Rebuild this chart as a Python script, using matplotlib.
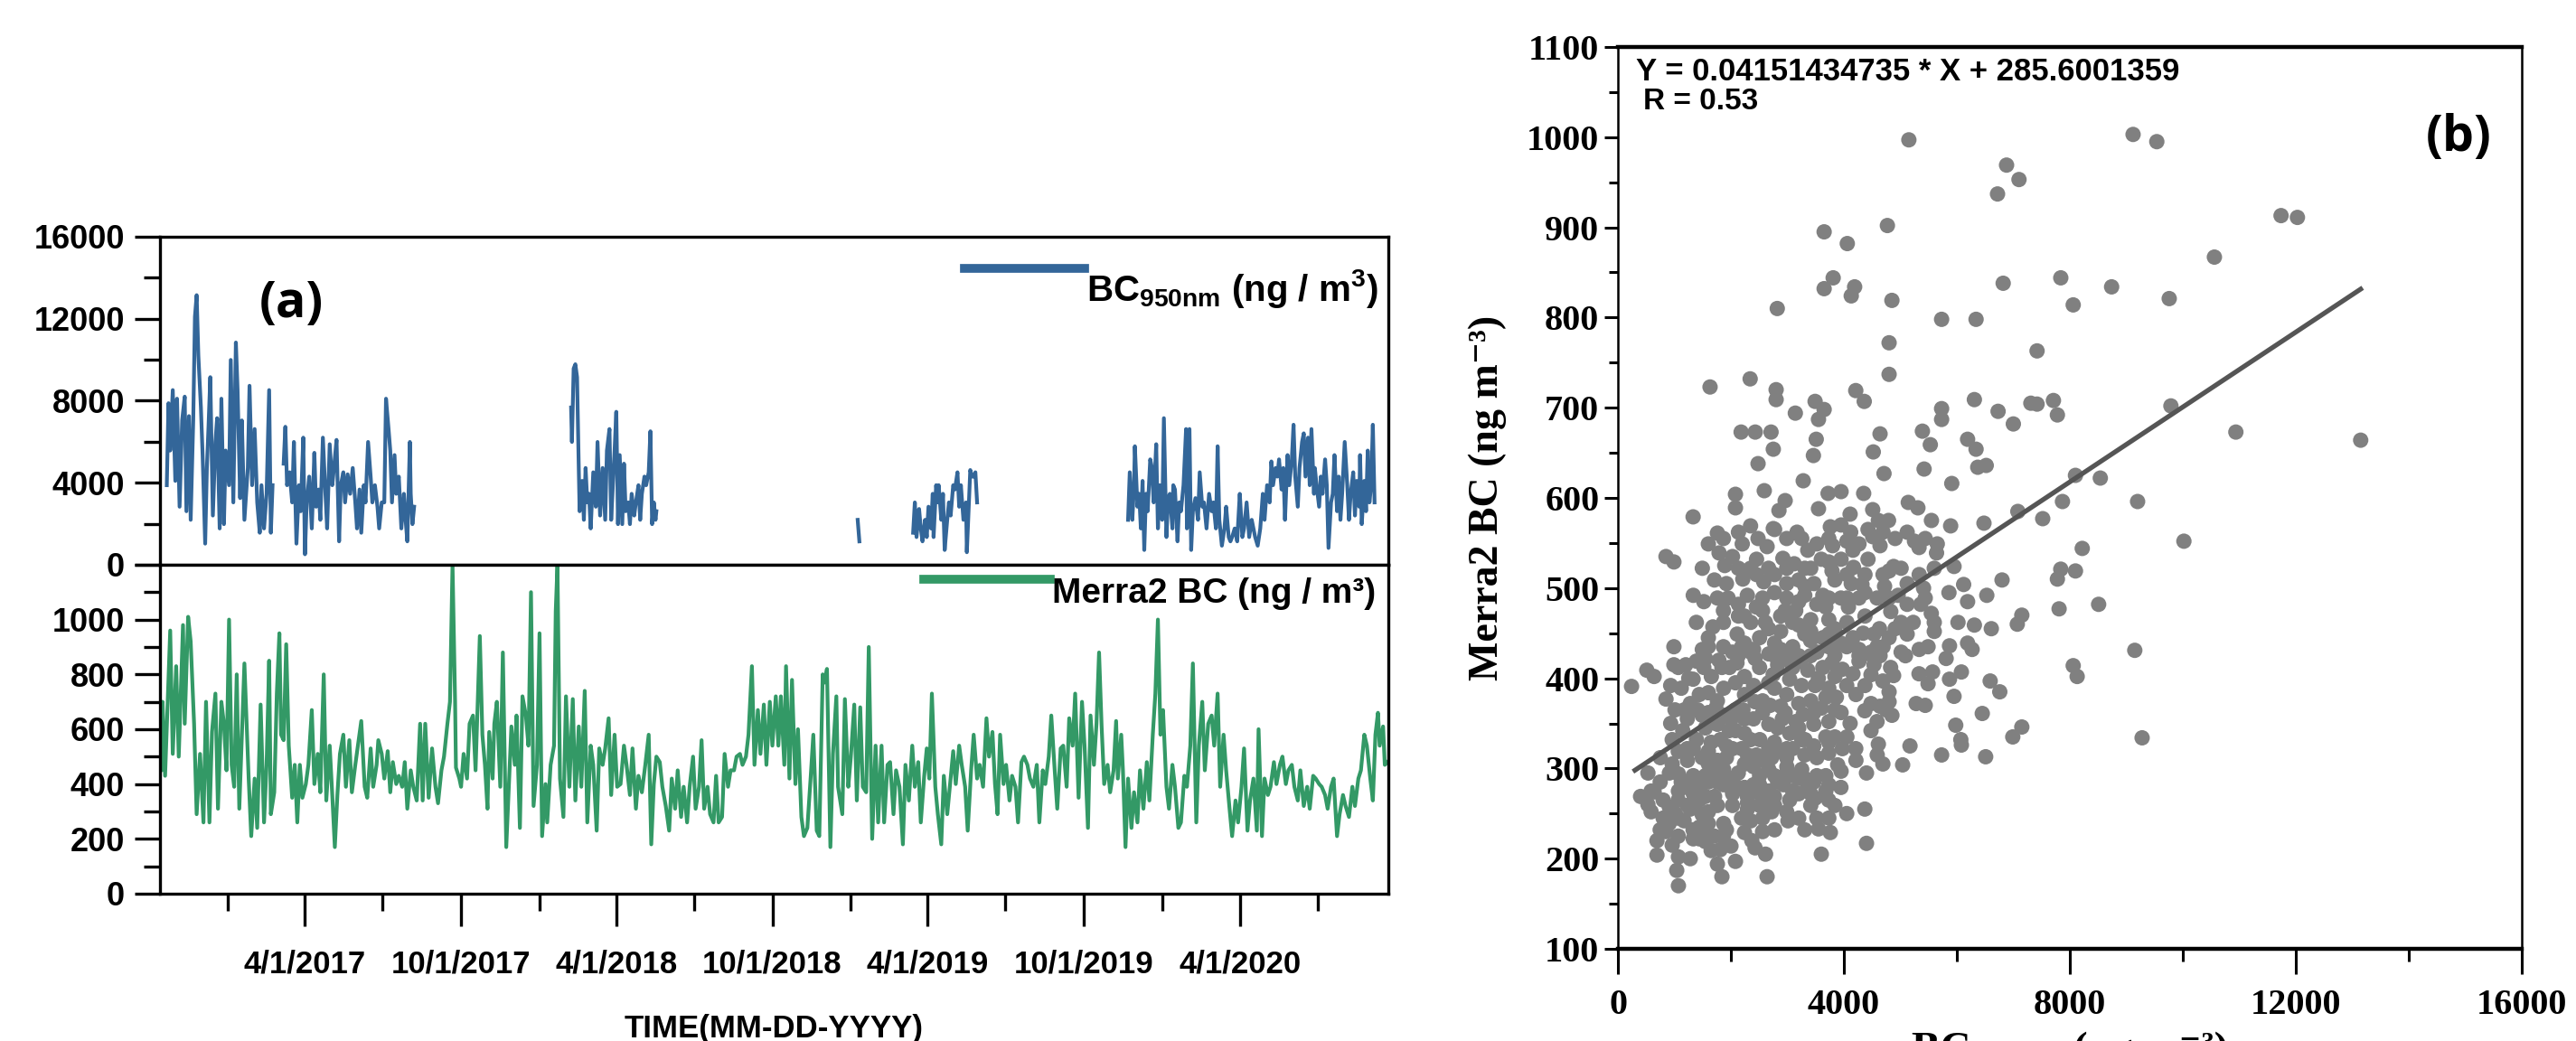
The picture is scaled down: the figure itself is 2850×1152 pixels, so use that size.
import numpy as np
import matplotlib
matplotlib.use("Agg")
import matplotlib.pyplot as plt
import matplotlib.dates as mdates
from matplotlib.transforms import Affine2D
from matplotlib.ticker import MultipleLocator, FixedLocator, FuncFormatter

plt.rcParams['font.family'] = ['Liberation Sans', 'DejaVu Sans']
plt.rcParams['font.weight'] = 'bold'
plt.rcParams['mathtext.fontset'] = 'custom'
plt.rcParams['mathtext.rm'] = 'Liberation Sans:bold'
plt.rcParams['mathtext.it'] = 'Liberation Sans:bold'
plt.rcParams['mathtext.bf'] = 'Liberation Sans:bold'

# ---------------- data ----------------
SERIES_START = np.datetime64('2016-10-13')
SERIES_END = np.datetime64('2020-09-22')

# MERRA-2 BC (ng/m3): (day offset from SERIES_START, value)
merra = [
 (0,700),(2,450),(3,700),(6,430),(12,960),(15,510),(19,830),(22,500),(27,980),(29,620),(33,1010),(36,920),
 (40,620),(43,290),(47,510),(51,260),(54,700),(58,260),(61,590),(65,730),(68,310),(72,700),(75,620),(78,450),
 (81,1000),(84,470),(87,390),(90,800),(93,310),(96,580),(99,840),(104,420),(107,210),(111,420),(114,240),
 (118,690),(122,260),(125,470),(128,850),(130,290),(134,370),(137,730),(140,950),(142,580),(145,560),(148,910),
 (151,540),(155,350),(158,470),(161,260),(164,470),(167,350),(171,400),(174,470),(178,670),(181,400),(185,510),
 (188,370),(192,800),(195,340),(199,540),(202,360),(205,170),(208,360),(211,510),(215,580),(218,390),(222,560),
 (225,370),(229,470),(233,560),(236,630),(240,390),(243,350),(247,530),(250,390),(254,470),(256,560),(260,510),
 (263,420),(267,520),(270,370),(273,480),(277,400),(280,430),(284,390),(287,480),(290,310),(294,450),(297,390),
 (301,340),(305,620),(308,340),(311,620),(315,350),(319,530),(323,390),(326,330),(330,450),(333,500),(337,620),
 (340,700),(343,1200),(346,700),(347,460),(351,420),
 (353,390),(356,510),(360,420),(363,620),(367,650),(370,450),(375,940),(378,580),(381,470),(384,310),(386,590),
 (390,420),(392,620),(395,700),(399,390),(402,880),(406,170),(409,390),(412,610),(416,470),(418,650),(422,240),
 (425,720),(429,650),(432,540),(435,1100),(438,320),(442,470),(445,950),(448,210),(452,400),(454,260),(458,470),
 (462,540),(464,1030),(466,1200),(469,420),(473,280),(476,720),(480,390),(484,710),(487,340),(491,610),(494,390),
 (498,740),(501,260),(505,540),(508,470),(512,230),(515,530),(519,470),(522,530),(526,640),(529,360),(533,580),
 (536,390),(540,400),(544,540),(547,470),(551,360),(554,530),(558,310),(561,430),(565,370),(569,470),(573,580),
 (576,180),(579,400),(582,500),(586,480),(589,390),(593,320),(597,230),(600,420),(604,310),(607,450),(611,280),
 (614,390),(618,260),(621,390),(625,500),(628,310),(632,390),(635,560),(638,310),(642,390),(645,290),(649,260),
 (652,430),(655,260),(659,280),(662,510),(666,390),(669,450),(673,450),(676,500),(680,510),(683,470),(687,500),
 (690,580),(694,830),(697,470),(701,670),(704,510),(708,690),(711,470),(715,700),(718,540),(722,720),(725,540),
 (728,720),(732,470),(734,830),(738,420),(741,780),(745,400),(748,600),(752,280),(755,210),(759,240),(763,430),
 (766,580),(770,230),(773,210),(777,800),(779,770),(782,820),(786,170),(789,510),(793,720),(795,390),(800,290),
 (803,710),(807,390),(810,500),(814,690),(817,340),(821,680),(824,390),(828,370),(831,900),(835,200),(839,540),
 (842,260),(846,540),(849,260),(853,470),(856,480),(860,290),(863,450),(867,390),(871,180),(874,470),(878,340),
 (882,540),(885,390),(889,480),(892,260),(896,430),(899,530),(902,420),(905,730),(909,390),(912,290),(916,180),
 (919,430),(923,290),(926,390),(930,520),(933,400),(937,540),(940,470),(944,390),(947,230),(951,450),(954,580),
 (958,420),(961,470),(965,390),(969,640),(972,500),(976,590),(979,400),(982,290),(985,580),(989,400),(992,470),
 (996,340),(999,430),(1003,390),(1006,260),(1010,480),(1013,500),(1017,470),(1020,420),(1024,390),(1028,470),
 (1031,260),(1035,450),(1038,400),(1042,500),(1045,650),(1049,450),(1052,310),(1056,530),(1059,540),(1063,390),
 (1066,640),(1070,540),(1073,730),(1077,350),(1081,700),(1084,540),(1088,240),(1091,650),
 (1095,470),(1098,620),(1101,880),(1104,610),(1107,400),(1111,470),(1114,370),(1118,450),(1121,630),(1123,420),
 (1127,580),(1129,450),(1132,170),(1135,420),(1139,240),(1142,370),(1146,260),(1149,450),(1153,310),(1157,480),
 (1160,340),(1164,580),(1167,730),(1170,1000),(1173,580),(1176,670),(1180,390),(1183,310),(1187,470),(1190,390),
 (1194,240),(1197,260),(1201,430),(1204,390),(1208,540),(1211,840),(1215,260),(1218,540),(1222,700),(1225,450),
 (1229,620),(1233,650),(1236,540),(1240,730),(1243,390),(1247,580),(1250,450),(1254,310),(1257,210),(1261,340),
 (1264,260),(1268,390),(1271,530),(1275,230),(1278,340),(1282,420),(1286,230),(1288,600),(1292,210),(1295,420),
 (1299,360),(1302,390),(1306,480),(1309,400),(1313,470),(1316,500),(1320,400),(1323,450),(1327,470),(1330,390),
 (1334,340),(1337,450),(1341,320),(1345,390),(1348,310),(1352,430),(1355,420),(1359,400),(1362,390),(1366,360),
 (1369,310),(1373,390),(1376,420),(1380,210),(1383,290),(1387,360),(1390,320),(1394,280),(1398,390),(1401,320),
 (1405,420),(1408,450),(1412,580),(1415,540),(1419,420),(1422,340),(1425,580),(1428,660),(1430,540),(1434,610),
 (1436,470),(1439,480),
]

# BC 950 nm (ng/m3) measured segments: (day offset, value)
bc_seg1 = [
 (8,3880),(10,7880),(12,5570),(15,8520),(18,4090),(20,8100),(23,2830),(26,7040),(29,8200),(31,2610),(34,7250),
 (36,2190),(39,7040),(41,12100),(43,13150),(45,10200),(48,7670),(50,5350),(53,1030),(55,4720),(57,6830),(59,9150),
 (62,2400),(65,5990),(67,7150),(70,1770),(72,8100),(75,1980),(77,5570),(81,3880),(83,9990),(86,3040),(89,10840),
 (91,8520),(94,3250),(96,7040),(99,2190),(103,4720),(105,8730),(108,3880),(111,6620),(114,3040),(117,1560),
 (119,3880),(122,1770),(125,3460),(128,8520),(130,1560),(132,3880),
]
bc_seg2 = [
 (145,4930),(147,6730),(149,3880),(152,4510),(155,3040),(157,5990),(160,1030),(163,3880),(165,2610),(168,6200),
 (170,510),(172,3040),(175,4300),(178,1770),(181,5460),(183,2830),(186,3670),(188,2190),(191,6200),(194,3460),
 (196,1770),(199,5880),(202,3880),(204,4720),(207,6090),(210,1140),(212,3880),(215,4510),(217,3040),(220,4410),
 (223,3460),(226,4720),(229,3040),(231,1770),(234,3670),(236,1560),(239,3880),(241,3040),(244,5990),(247,4300),
 (249,3040),(252,3880),(255,2830),(257,1770),(260,3040),(263,3040),(265,8100),(268,6620),(270,5570),(272,3040),
 (275,5350),(277,3460),(280,4300),(283,1770),(286,3460),(288,2190),(290,1140),(293,5990),(294,3460),(296,1980),
 (298,2830),
]
bc_seg3 = [
 (482,7670),(483,5990),(485,9570),(487,9780),(489,9150),(491,4720),(492,2610),(495,4090),(497,2190),(499,4720),
 (501,3040),(503,3460),(505,1770),(508,4510),(511,2830),(513,5990),(516,2400),(519,4720),(522,2190),(524,5570),
 (527,6620),(529,2190),(531,3880),(533,5570),(535,7460),(537,1980),(539,5350),(542,1980),(544,4930),(546,2610),
 (549,3040),(551,1980),(553,3460),(556,2400),(558,3040),(561,3880),(563,2190),(565,3460),(568,4300),(570,3880),
 (573,4510),(575,6510),(577,1980),(579,3040),(581,2190),(582,2610),
]
bc_seg4 = [(818,2190),(820,1140)]
bc_seg5 = [
 (883,1560),(885,3040),(887,1350),(890,2720),(892,1770),(894,1140),(897,2190),(899,1350),(901,2830),(904,1770),
 (906,3460),(907,1350),(910,3880),(912,3040),(913,3880),(916,2190),(918,3460),(920,720),(923,2190),(925,3040),
 (927,2400),(930,3880),(932,3670),(935,4510),(937,2830),(939,3880),(942,2190),(945,3040),(946,610),(948,2610),
 (950,4620),(952,4300),(954,4300),(956,4510),(958,3040),
]
bc_seg6 = [
 (1135,2190),(1137,4510),(1140,2190),(1142,3880),(1143,5780),(1146,2830),(1148,3460),(1150,1770),(1152,4090),
 (1154,720),(1156,3460),(1158,2610),(1161,5140),(1163,4720),(1165,3040),(1168,5880),(1170,1770),(1172,3880),
 (1175,2190),(1177,7150),(1180,1350),(1182,3250),(1184,3460),(1187,1770),(1188,3880),(1190,3670),(1193,1140),
 (1195,3040),(1197,2610),(1200,3880),(1203,6620),(1204,1770),(1207,6620),(1209,720),(1211,2610),(1214,3250),
 (1217,2190),(1219,4510),(1222,2830),(1224,3040),(1227,1770),(1230,3460),(1233,2610),(1235,3040),(1238,1770),
 (1240,5780),(1242,2190),(1245,930),(1248,1770),(1250,2830),(1253,1350),(1255,1140),(1257,1350),(1260,1770),
 (1263,1140),(1264,1980),(1266,3460),(1269,1350),(1271,1770),(1274,3040),(1277,1350),(1280,2190),(1282,1770),
 (1284,1350),(1287,930),(1290,1770),(1293,3460),(1295,2190),(1298,3880),(1301,3040),(1303,5040),(1305,3880),
 (1308,4720),(1310,4300),(1312,5140),(1315,3670),(1317,4720),(1319,2190),(1322,5350),(1324,3880),(1327,5140),
 (1329,6830),(1331,4300),(1334,2830),(1336,4720),(1339,5990),(1341,6410),(1343,4300),(1346,6200),(1348,3880),
 (1350,6620),(1353,3460),(1354,4720),(1356,3880),(1359,2830),(1361,4300),(1363,3460),(1366,5140),(1368,3880),
 (1370,820),(1373,3040),(1375,3460),(1377,5350),(1380,2610),(1382,4300),(1384,2190),(1386,3460),(1389,5990),
 (1392,3880),(1394,2190),(1396,3460),(1399,4510),(1401,2400),(1403,4090),(1406,2830),(1407,5350),(1409,1980),
 (1412,4090),(1414,2610),(1416,5570),(1418,3040),(1420,3880),(1422,6830),(1424,3040),
]
bc_segments = [bc_seg1, bc_seg2, bc_seg3, bc_seg4, bc_seg5, bc_seg6]

# scatter: (BC950nm, Merra2 BC)
scatter_sparse = [
 (5150,997),(9120,1003),(9540,995),(6880,969),(7100,953),(6720,937),(11740,913),(12030,911),(4770,902),(3650,895),
 (4060,882),(10560,867),(3810,844),(3650,832),(4190,834),(4130,824),(6820,838),(7840,844),(8740,834),(8060,814),
 (9760,821),(4850,819),(2820,810),(5730,798),(6340,798),(4800,772),(7420,763),(4800,737),(2340,732),(1630,723),
 (7420,704),(7710,708),(7780,692),(9790,702),(10940,673),(13150,664),(7870,596),(8540,622),(8100,625),(9200,596),
 (7810,477),(8510,482),(9150,431),(8060,414),(8130,402),(9280,334),(8220,544),(8100,519),(7840,521),(7780,510),
 (10020,552),(7520,577),
]
scatter_upper = [
 (2800,720),(2800,709),(3490,707),(3650,698),(3550,687),(3140,694),(4210,719),(4360,707),(6310,709),(7310,705),
 (6730,696),(7000,682),(5730,699),(5730,687),(2180,673),(2430,673),(2710,673),(2750,654),(2480,638),(3510,665),
 (3460,647),(4640,671),(4520,651),(4710,627),(5390,674),(5530,659),(6190,665),(6340,654),(6370,634),(6520,636),
 (5420,632),(5910,616),(3280,619),(2590,608),(2080,604),(2080,589),(1330,579),(2960,597),(2850,586),(3720,605),
 (3950,607),(4350,605),(3550,588),(4110,582),(3950,570),(3760,568),(4120,562),(4510,587),(4610,575),(4790,575),
 (5140,595),(5310,589),(5550,575),(5890,569),(6480,572),(7080,585),(3170,562),(2750,566),(1760,561),(850,535),
 (990,529),(1790,539),(1890,525),(2200,549),(2480,555),(2640,546),(2210,510),(2580,507),(2920,533),(3120,527),
 (3360,542),(3600,532),(3800,547),(3950,532),(4170,523),(4510,557),(4640,547),(4880,524),(5250,552),(5330,545),
 (5640,539),(5950,524),(6800,509),(6120,504),(5860,495),(6530,492),(6190,485),(7150,470),(7070,460),(6610,455),
 (6310,459),(6020,462),(5600,452),(5870,436),(6190,439),(5490,435),(4830,474),(5010,462),(4630,455),(4340,450),
 (5360,482),(5440,489),(5410,500),(4720,502),(4320,504),(3680,479),(3470,505),(3790,519),(4130,505),(1520,485),
 (1680,457),(1950,489),(2290,492),(2450,479),(2770,495),(2960,475),(3200,485),(3310,502),(3520,482),(990,435),
 (1600,445),(2110,449),(2350,462),(2610,462),(2880,452),(3200,459),(3410,442),(3840,455),(4080,479),(2190,435),
 (2880,432),(3730,435),(4050,435),(4480,429),
 (1600,549),(1867,555),(2133,562),(2347,569),(2773,565),(2987,555),(3253,555),(3520,549),(3733,555),(4053,552),
 (4267,549),(4427,565),(4693,562),(4907,555),(5120,562),(5440,555),(5653,549),(1493,522),(1707,509),(2133,522),
 (2453,515),(2667,522),(2987,522),(3307,522),(3733,529),(4053,515),(4373,515),(4693,515),(5013,522),(5333,515),
 (5600,522),(1333,492),(1760,489),(2133,482),(2560,489),(2987,489),(3307,492),(3733,489),(4053,489),(4373,495),
 (4800,489),(5120,482),(5547,472),(1387,462),(1867,475),(2240,469),(2667,455),(3093,462),(3413,452),(3733,449),
 (4160,445),(4533,449),(4907,455),(5227,462),(5600,462),(1600,435),(2027,429),(2400,432),(2773,425),(3200,425),
 (3520,429),(3840,425),(4267,425),(4693,435),(5013,429),(5333,432),
 (1493,432),(1867,435),(2240,439),(2507,445),(2773,439),(3093,435),(3307,449),(3627,445),(3947,439),(4267,432),
 (4587,435),(4800,445),(5120,449),(1867,462),(2133,469),(2560,475),(2880,469),(3147,475),(3413,465),(3733,465),
 (4053,462),(4373,469),(1920,505),(2347,522),(2773,515),(2987,505),(3200,509),(3627,492),(3947,489),(4267,489),
 (4587,489),(4960,492),(5120,505),(4800,519),(4427,532),(4160,542),(3840,509),(3413,522),(2453,532),(2027,535),
]
scatter_lower = [
 (240,391),(510,409),(640,402),(990,415),(1200,415),(1550,422),(1840,412),(2130,425),(2350,429),(2670,427),
 (2960,422),(3410,425),(4370,427),(4640,425),(5090,425),(5810,422),(6080,407),(6270,432),(5330,405),(5570,407),
 (5490,394),(5870,399),(5950,380),(6590,397),(6760,385),(6450,361),(7150,346),(6990,335),(5980,348),(6070,332),
 (6080,326),(5730,315),(6510,313),(5170,325),(5040,304),(5280,372),(5440,370),(4880,403),(4480,404),(4690,397),
 (4800,385),(4800,374),(4850,359),(4640,369),(4480,372),(4370,364),(4480,342),(4610,327),(4690,305),(4590,315),
 (4210,322),(4400,295),(4050,392),(3950,362),(4110,350),(3840,365),(3680,379),(3490,392),(3250,392),(3470,362),
 (3680,335),(3730,317),(3890,304),(3520,292),(3730,265),(3950,297),(3360,280),(3490,267),(3550,233),(3760,229),
 (4050,250),(4370,255),(4400,217),(3600,205),(3040,399),(2770,389),(2560,375),(2880,369),(3200,372),(3150,352),
 (2910,355),(2670,349),(2400,355),(2080,365),(2240,382),(1870,389),(1600,384),(1330,399),(1120,389),(850,377),
 (1010,365),(1280,372),(1490,359),(1760,349),(1970,342),(2240,339),(2510,332),(2770,329),(3040,339),(3310,332),
 (2990,322),(2720,312),(2450,315),(2190,322),(1920,325),(1650,329),(1390,332),(1230,309),(910,295),(1070,294),
 (530,295),(750,312),(1600,305),(1870,299),(2130,295),(2400,302),(2670,299),(2990,302),(3200,289),(2930,282),
 (2670,275),(2400,282),(2130,279),(1870,282),(1600,285),(1230,279),(1440,265),(1710,269),(2030,272),(2290,269),
 (2510,272),(2770,269),(3040,265),(640,274),(400,269),(530,260),(910,257),(1010,250),(1170,242),(1490,249),
 (1600,239),(1330,232),(1870,239),(2350,242),(2720,252),(3010,242),(850,230),(690,220),(960,215),(690,204),
 (1070,202),(1280,200),(1040,187),(1070,170),(1650,209),(1810,210),(2000,214),(1760,194),(2080,197),(1840,180),
 (2370,220),(2560,230),(2640,180),(1440,222),(1330,259),(1070,275),
 (1067,412),(1387,419),(1653,402),(1973,412),(2240,402),(2507,412),(2827,415),(3093,412),(3360,409),(3627,412),
 (3840,402),(4160,405),(3733,389),(3413,375),(2987,382),(2667,395),(2400,392),(2080,395),(1760,375),(1440,382),
 (1173,365),(1600,362),(1867,359),(2240,355),(2560,362),(2827,345),(3200,345),(3467,349),(3733,352),(4053,335),
 (3840,335),(3307,315),(3520,312),(3093,292),(2773,292),(2507,292),(2240,305),(1920,312),(1600,319),(1333,322),
 (1067,319),(960,332),(1227,355),(1547,345),(1813,332),(2080,342),(2347,332),(2667,322),(2987,312),(3253,299),
 (3467,285),(3733,282),(3947,279),(3680,292),(1333,292),(1547,292),(1760,285),(2027,259),(2293,255),(2507,259),
 (2773,259),(2240,229),(1867,225),(1440,235),(1280,255),(800,265),(587,252),(1067,225),(1547,219),(3200,272),
 (3413,259),(3680,275),(3307,232),(2987,252),(1333,222),(2427,212),(2613,205),
 (933,392),(1253,400),(1520,412),(1787,420),(2107,417),(2427,422),(2747,404),(2987,425),(3227,419),(3547,400),
 (3787,417),(3973,410),(4267,419),(4533,415),(4827,412),(933,350),(1147,342),(1413,365),(1733,367),(2000,354),
 (2213,365),(2427,374),(2693,370),(2960,362),(3280,360),(3600,367),(3867,379),(4213,382),(4373,392),(4587,352),
 (4747,365),(3253,332),(3467,325),(3733,329),(3973,322),(4213,309),(3093,322),(2827,319),(2560,309),(2293,315),
 (2027,322),(1760,309),(1493,312),(1227,322),(960,305),(747,285),(1120,285),(1440,282),(1707,295),(1973,289),
 (2240,279),(2507,282),(2827,285),(3093,275),(3307,289),(2987,295),(2560,265),(2293,262),(2027,275),(1760,259),
 (1547,269),(1333,272),(1067,265),(800,245),(1227,259),(1600,252),(2187,245),(2560,245),(2773,232),(3200,245),
 (3520,245),(3733,245),(3840,259),(3413,272),(1493,232),(1707,225),(1920,232),(907,239),(747,232),(587,275),
 (1067,245),
]

FIT_SLOPE = 0.04151434735
FIT_INTERCEPT = 285.6001359
FIT_R = 0.53

BLUE = '#336699'
GREEN = '#339966'
GRAY_PT = '#808080'
GRAY_LINE = '#555555'

# ---------------- figure ----------------
fig = plt.figure(figsize=(28.5, 11.52), dpi=100)
ax1 = fig.add_axes([0.0621, 0.4575, 0.4768, 0.3151])
ax2 = fig.add_axes([0.0621, 0.1415, 0.4768, 0.3160], sharex=ax1)
ax3 = fig.add_axes([0.6281, 0.0885, 0.3508, 0.8664])


def to_dates(days):
    return SERIES_START + np.asarray(days, dtype=int).astype('timedelta64[D]')


bc_label = r'BC$_{950nm}$ (ng / m$^{3}$)'
first = True
for seg in bc_segments:
    d, v = zip(*seg)
    ax1.plot(to_dates(d), v, color=BLUE, lw=3.0, solid_joinstyle='round',
             label=bc_label if first else None)
    first = False

md, mv = zip(*merra)
ax2.plot(to_dates(md), mv, color=GREEN, lw=3.0, solid_joinstyle='round',
         label='Merra2 BC (ng / m³)')

ax1.set_xlim(SERIES_START, SERIES_END)
ax1.set_ylim(0, 16000)
ax2.set_ylim(0, 1200)

for ax in (ax1, ax2):
    for s in ax.spines.values():
        s.set_linewidth(2.4)

ax1.yaxis.set_major_locator(MultipleLocator(4000))
ax1.yaxis.set_minor_locator(MultipleLocator(2000))
ax1.tick_params(axis='x', which='both', bottom=False, labelbottom=False)
ax1.tick_params(axis='y', which='major', direction='out', length=20, width=2.4,
                labelsize=26, pad=8)
ax1.tick_params(axis='y', which='minor', direction='out', length=13, width=2.4)

ax2.yaxis.set_major_locator(FixedLocator([0, 200, 400, 600, 800, 1000, 1200]))
ax2.yaxis.set_major_formatter(FuncFormatter(lambda v, p: '' if v > 1100 else f'{int(v)}'))
ax2.yaxis.set_minor_locator(MultipleLocator(100))
ax2.tick_params(axis='y', which='major', direction='out', length=20, width=2.4,
                labelsize=26, pad=8)
ax2.tick_params(axis='y', which='minor', direction='out', length=13, width=2.4)

ax2.xaxis.set_major_locator(mdates.MonthLocator(bymonth=[4, 10], bymonthday=1))
ax2.xaxis.set_minor_locator(mdates.MonthLocator(bymonth=[1, 7], bymonthday=1))


def date_fmt(v, pos):
    d = mdates.num2date(v)
    return f'{d.month}/{d.day}/{d.year}'


ax2.xaxis.set_major_formatter(FuncFormatter(date_fmt))
ax2.tick_params(axis='x', which='major', direction='out', length=26, width=2.4,
                labelsize=25, pad=18)
ax2.tick_params(axis='x', which='minor', direction='out', length=14, width=2.4)
ax2.set_xlabel('TIME(MM-DD-YYYY)', fontsize=25, fontweight='bold', va='top')
ax2.xaxis.set_label_coords(0.5, -0.365)

leg1 = ax1.legend(loc='upper right', bbox_to_anchor=(0.992, 0.905), frameon=False,
                  fontsize=29, handlelength=3.3, handletextpad=0.05, borderpad=0,
                  borderaxespad=0)
leg2 = ax2.legend(loc='upper right', bbox_to_anchor=(0.990, 0.962), frameon=False,
                  fontsize=28, handlelength=3.6, handletextpad=0.05, borderpad=0,
                  borderaxespad=0)
for leg, lift in ((leg1, 22), (leg2, 12)):
    for l in leg.get_lines():
        l.set_linewidth(7)
        l.set_transform(l.get_transform() + Affine2D().translate(0, lift))

fig.text(322 / 2850, 1 - 336 / 1152, '(a)', ha='center', va='center', fontsize=40,
         fontweight='bold', family=['Open Sans', 'DejaVu Sans'])

# panel (b): scatter
sx, sy = zip(*(scatter_sparse + scatter_upper + scatter_lower))
sx = np.array(sx, dtype=float)
sy = np.array(sy, dtype=float)
ax3.scatter(sx, sy, s=150, c=GRAY_PT, edgecolors='none', zorder=2)
fx = np.array([300.0, sx.max()])
ax3.plot(fx, FIT_SLOPE * fx + FIT_INTERCEPT, color=GRAY_LINE, lw=3.8, zorder=3)

ax3.set_xlim(0, 16000)
ax3.set_ylim(100, 1100)
ax3.xaxis.set_major_locator(MultipleLocator(4000))
ax3.xaxis.set_minor_locator(MultipleLocator(2000))
ax3.yaxis.set_major_locator(MultipleLocator(100))
ax3.yaxis.set_minor_locator(MultipleLocator(50))
for side in ('top', 'bottom'):
    ax3.spines[side].set_linewidth(3.2)
for side in ('left', 'right'):
    ax3.spines[side].set_linewidth(1.8)
serif = ['Liberation Serif', 'DejaVu Serif']
ax3.tick_params(axis='y', which='major', direction='out', length=11, width=2.2,
                labelsize=29, pad=4, labelfontfamily='Liberation Serif')
ax3.tick_params(axis='y', which='minor', direction='out', length=7, width=2.2)
ax3.tick_params(axis='x', which='major', direction='out', length=20, width=2.2,
                labelsize=29, pad=12, labelfontfamily='Liberation Serif')
ax3.tick_params(axis='x', which='minor', direction='out', length=10, width=2.2)

ax3.set_ylabel('Merra2 BC (ng m⁻³)', fontsize=33, fontweight='bold', family=serif)
ax3.yaxis.set_label_coords(-0.123, 0.5)
ax3.set_xlabel('BC₉₅₀ₙₘ (ng m⁻³)', fontsize=34, fontweight='bold', family=serif, va='top')
ax3.xaxis.set_label_coords(0.5, -0.092)

ax3.text(0.02, 0.989, f'Y = {FIT_SLOPE} * X + {FIT_INTERCEPT}', transform=ax3.transAxes,
         ha='left', va='top', fontsize=25, fontweight='bold')
ax3.text(0.028, 0.939, f'R = {FIT_R}', transform=ax3.transAxes, ha='left', va='center',
         fontsize=24, fontweight='bold')
ax3.text(0.93, 0.899, '(b)', transform=ax3.transAxes, ha='center', va='center',
         fontsize=40, fontweight='bold', family=['Open Sans', 'DejaVu Sans'])

fig.savefig('out.png', dpi=100)
